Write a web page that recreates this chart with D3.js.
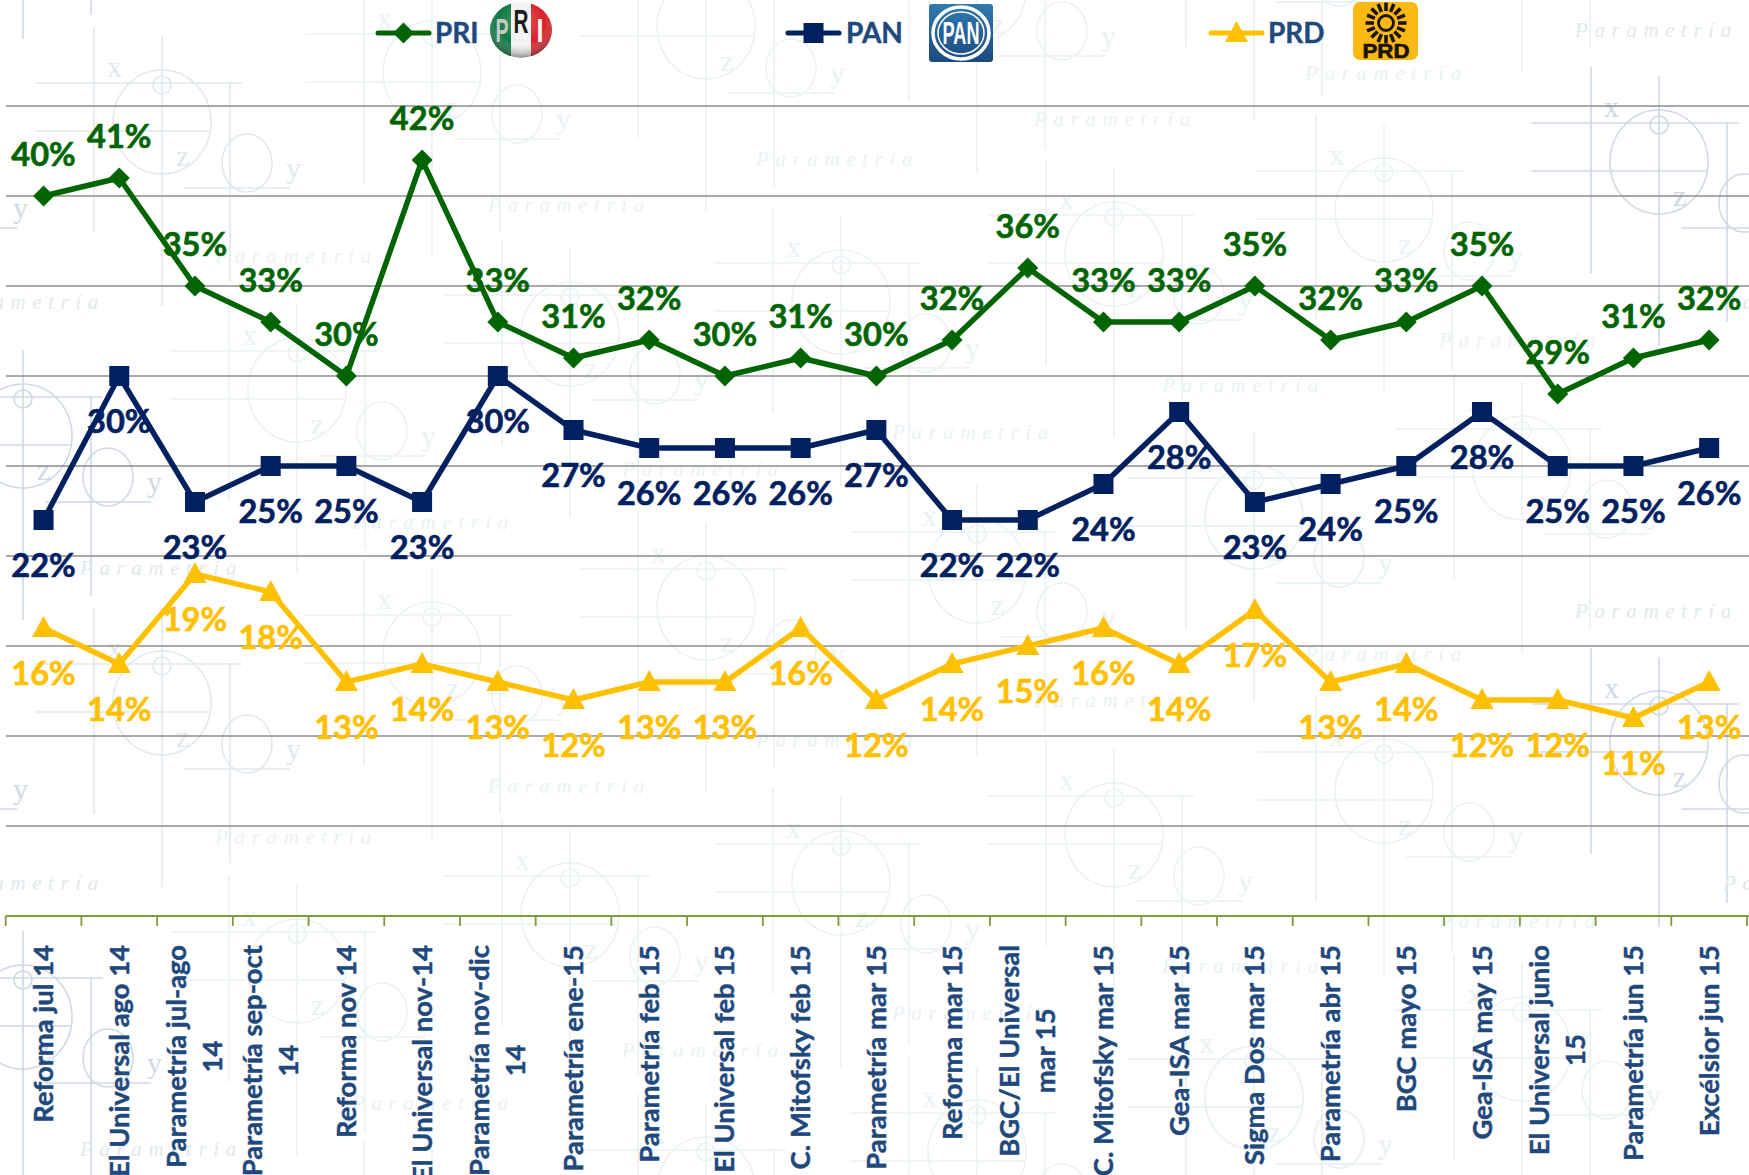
<!DOCTYPE html>
<html><head><meta charset="utf-8">
<script src="https://cdn.jsdelivr.net/npm/d3@7"></script>
<style>html,body{margin:0;padding:0;background:#fff;overflow:hidden}svg{display:block}</style>
</head><body><svg id="c" width="1749" height="1175"></svg>
<script>
const categories = ["Reforma jul 14","El Universal ago 14","Parametría jul-ago|14","Parametría sep-oct|14","Reforma nov 14","El Universal nov-14","Parametría nov-dic|14","Parametría ene-15","Parametría feb 15","El Universal feb 15","C. Mitofsky feb 15","Parametría mar 15","Reforma mar 15","BGC/El Universal|mar 15","C. Mitofsky mar 15","Gea-ISA mar 15","Sigma Dos mar 15","Parametría abr 15","BGC mayo 15","Gea-ISA may 15","El Universal junio|15","Parametría jun 15","Excélsior jun 15"];
const pri = [40,41,35,33,30,42,33,31,32,30,31,30,32,36,33,33,35,32,33,35,29,31,32];
const pan = [22,30,23,25,25,23,30,27,26,26,26,27,22,22,24,28,23,24,25,28,25,25,26];
const prd = [16,14,19,18,13,14,13,12,13,13,16,12,14,15,16,14,17,13,14,12,12,11,13];
const gridTicks = [5,10,15,20,25,30,35,40,45];
const GREEN="#006400", NAVY="#002060", GOLD="#FFC000", INK="#1F497D";

// background watermark tile
const motifs = [[162,122,1],[432,73,0],[706,27,0],[570,334,0],[297,390,0],[841,302,0],[23,436,2],[1384,210,0],[1114,254,0],[1659,162,2],[-111,162,2],[977,-10,0],[1254,-64,0],[1254,517,0],[1522,468,0]];
const stamps = [[488,205,0],[215,256,0],[756,159,0],[-58,302,1],[1723,302,1],[352,522,0],[80,568,1],[1575,30,1],[1305,73,0],[1034,119,0],[1439,340,0],[1162,385,0],[892,432,0],[622,469,0]];
const rows = [-581,0,581,1162];
const tints = ["#e9f2f4","#e0e9ee","#cfd9e6"];

const svg = d3.select("#c");
const x = d3.scaleBand().domain(categories).range([5.7,1747]);
const y = d3.scaleLinear().domain([0,45]).range([916,106]);
const cx = c => x(c)+x.bandwidth()/2;

const bg = svg.append("g").attr("fill","none").attr("stroke-width",1.6);
rows.forEach(dy=>{
  motifs.forEach(([mx,my,t])=>{
    const g = bg.append("g").attr("transform",`translate(${mx},${my+dy})`).attr("stroke",tints[t]);
    g.append("ellipse").attr("rx",49).attr("ry",52);
    g.append("circle").attr("cy",-37).attr("r",9);
    g.append("ellipse").attr("cx",85).attr("cy",41).attr("rx",25).attr("ry",29);
    [[-127,-39,80,-39],[-127,9,48,9],[22,66,128,66]].forEach(l=>g.append("line").attr("x1",l[0]).attr("y1",l[1]).attr("x2",l[2]).attr("y2",l[3]));
    [[0,-86,0,184],[-68,-95,-68,111],[68,-40,68,160]].forEach(l=>g.append("line").attr("x1",l[0]).attr("y1",l[1]).attr("x2",l[2]).attr("y2",l[3]));
    [["x",-55,-45],["z",14,44],["y",124,56]].forEach(s=>{
      const ax=mx+s[1], ay=my+dy+s[2];
      if(ax<0||ax>1730||ay<25||ay>1170) return;
      g.append("text").text(s[0]).attr("x",s[1]).attr("y",s[2]).attr("stroke","none").attr("fill",tints[t]).attr("font-family","Liberation Serif").attr("font-size",30);
    });
  });
  stamps.forEach(([sx,sy,t])=>{
    const ay=sy+dy+7;
    if(ay<20||ay>1170) return;
    bg.append("text").text("Parametría").attr("x",sx).attr("y",ay).attr("stroke","none").attr("fill",tints[t])
      .attr("font-family","Liberation Serif").attr("font-style","italic").attr("font-size",21).attr("letter-spacing",6.6);
  });
});

// grid
svg.append("g").selectAll("line").data(gridTicks).join("line")
  .attr("x1",6).attr("x2",1749).attr("y1",d=>y(d)).attr("y2",d=>y(d))
  .attr("stroke","#8c8c8c").attr("stroke-width",1.7);

// x axis
const AX="#7F9A3C";
const edges = categories.map(c=>x(c)).concat([x.range()[1]]);
const ax = svg.append("g");
ax.append("line").attr("x1",edges[0]).attr("x2",1749).attr("y1",y(0)).attr("y2",y(0)).attr("stroke",AX).attr("stroke-width",1.8);
ax.selectAll(".t").data(edges).join("line").attr("class","t").attr("x1",d=>d).attr("x2",d=>d).attr("y1",y(0)).attr("y2",y(0)+10).attr("stroke",AX).attr("stroke-width",1.8);
const TOP=945, LH=36, FS=27.4;
categories.forEach(c=>{
  const lines=c.split("|");
  const g=ax.append("g").attr("font-family","Lato").attr("font-weight",700).attr("font-size",FS).attr("fill",INK).attr("stroke",INK).attr("stroke-width",0.45);
  const n=lines.length;
  const els=lines.map((s,i)=>g.append("text").text(s).attr("text-anchor","end")
     .attr("transform",`translate(${cx(c)+(i-(n-1)/2)*LH+9.5},${TOP}) rotate(-90)`));
  if(n>1){
    const L=els[0].node().getComputedTextLength();
    els.forEach((e,i)=>{ e.attr("text-anchor","middle").attr("transform",`translate(${cx(c)+(i-(n-1)/2)*LH+9.5},${TOP+L/2}) rotate(-90)`);});
  }
});

// series
const series=[
 {name:"PRI",vals:pri,color:GREEN,sym:"d",off:-42},
 {name:"PAN",vals:pan,color:NAVY,sym:"s",off:45},
 {name:"PRD",vals:prd,color:GOLD,sym:"t",off:45}];
function marker(g,s,px,py){
  if(s==="d") g.append("path").attr("d","M0,-10.5L10.5,0L0,10.5L-10.5,0Z").attr("transform",`translate(${px},${py})`).attr("fill",g.attr("data-c"));
  if(s==="s") g.append("rect").attr("x",px-10).attr("y",py-10).attr("width",20).attr("height",20).attr("fill",g.attr("data-c"));
  if(s==="t") g.append("path").attr("d",`M0,-12L11.5,9L-11.5,9Z`).attr("transform",`translate(${px},${py})`).attr("fill",g.attr("data-c"));
}
const line=d3.line().x((d,i)=>cx(categories[i])).y(d=>y(d));
series.forEach(s=>{
  const g=svg.append("g").attr("data-c",s.color);
  g.append("path").attr("d",line(s.vals)).attr("fill","none").attr("stroke",s.color).attr("stroke-width",5.4).attr("stroke-linejoin","round");
  s.vals.forEach((v,i)=>marker(g,s.sym,cx(categories[i]),y(v)));
});
series.forEach(s=>{
  svg.append("g").selectAll("text").data(s.vals).join("text")
    .attr("x",(d,i)=>cx(categories[i])).attr("y",d=>y(d)+s.off).attr("dy","0.36em")
    .attr("text-anchor","middle").attr("font-family","Lato").attr("font-weight",700).attr("font-size",32.6).attr("fill",s.color)
    .attr("stroke",s.color).attr("stroke-width",0.6)
    .text(d=>d+"%");
});

// legend
const legend=[{name:"PRI",c:GREEN,sym:"d",x0:376,tx:435},{name:"PAN",c:NAVY,sym:"s",x0:786,tx:846},{name:"PRD",c:GOLD,sym:"t",x0:1209,tx:1268}];
legend.forEach(l=>{
  const g=svg.append("g").attr("data-c",l.c);
  g.append("line").attr("x1",l.x0+2).attr("x2",l.x0+53).attr("y1",33).attr("y2",33).attr("stroke",l.c).attr("stroke-width",5).attr("stroke-linecap","round");
  marker(g,l.sym,l.x0+27.5,33);
  g.append("text").text(l.name).attr("x",l.tx).attr("y",43).attr("font-family","Lato").attr("font-weight",700).attr("font-size",28).attr("fill",INK).attr("stroke",INK).attr("stroke-width",0.4);
});

// party logos
const defs=svg.append("defs");
const sh=defs.append("radialGradient").attr("id","sh").attr("cx","0.5").attr("cy","0.35").attr("r","0.7");
[[0,"#fff",0.25],[0.55,"#fff",0],[1,"#000",0.6]].forEach(a=>sh.append("stop").attr("offset",a[0]).attr("stop-color",a[1]).attr("stop-opacity",a[2]));
defs.append("clipPath").attr("id","ov").append("ellipse").attr("cx",521).attr("cy",30).attr("rx",31).attr("ry",28);
const pg=defs.append("linearGradient").attr("id","pb").attr("x1",0).attr("y1",0).attr("x2",0).attr("y2",1);
pg.append("stop").attr("offset",0).attr("stop-color","#2f7ab0");pg.append("stop").attr("offset",1).attr("stop-color","#1c4a80");

const l1=svg.append("g");
const ov=l1.append("g").attr("clip-path","url(#ov)");
[["#0f7a45",490,21],["#f2f2f2",511,20],["#d8232a",531,21]].forEach(b=>ov.append("rect").attr("x",b[1]).attr("y",2).attr("width",b[2]).attr("height",56).attr("fill",b[0]));
ov.append("ellipse").attr("cx",521).attr("cy",30).attr("rx",31).attr("ry",28).attr("fill","url(#sh)");
[["P",502,42,"#c9c9c9",13],["R",521,33,"#1c1c1c",15],["I",540,42,"#f4f4f4",7]].forEach(t=>l1.append("text").text(t[0]).attr("x",t[1]).attr("y",t[2]).attr("text-anchor","middle").attr("font-family","Liberation Sans").attr("font-weight",700).attr("font-size",33).attr("fill",t[3]).attr("textLength",t[4]).attr("lengthAdjust","spacingAndGlyphs"));

const l2=svg.append("g");
l2.append("rect").attr("x",929).attr("y",4).attr("width",64).attr("height",58).attr("rx",3).attr("fill","url(#pb)");
l2.append("ellipse").attr("cx",961).attr("cy",33).attr("rx",28).attr("ry",26).attr("fill","none").attr("stroke","#fff").attr("stroke-width",3.5);
l2.append("ellipse").attr("cx",961).attr("cy",33).attr("rx",23).attr("ry",21).attr("fill","none").attr("stroke","#fff").attr("stroke-width",1.5);
l2.append("text").text("PAN").attr("x",961).attr("y",44).attr("text-anchor","middle").attr("font-family","Liberation Sans").attr("font-weight",700).attr("font-size",32).attr("fill","#fff").attr("textLength",37).attr("lengthAdjust","spacingAndGlyphs");

const l3=svg.append("g");
l3.append("rect").attr("x",1353).attr("y",2).attr("width",65).attr("height",58).attr("rx",7).attr("fill","#FDB913");
d3.range(16).forEach(i=>{
  const a=i/16*2*Math.PI, sx=1386, sy=23;
  l3.append("line").attr("x1",sx+12*Math.cos(a)).attr("y1",sy+12*Math.sin(a)).attr("x2",sx+20.5*Math.cos(a)).attr("y2",sy+20.5*Math.sin(a)).attr("stroke","#1a1408").attr("stroke-width",3.6);
});
l3.append("circle").attr("cx",1386).attr("cy",23).attr("r",7.5).attr("fill","none").attr("stroke","#1a1408").attr("stroke-width",2.8);
l3.append("text").text("PRD").attr("x",1386).attr("y",58).attr("text-anchor","middle").attr("font-family","Liberation Sans").attr("font-weight",700).attr("font-size",21).attr("fill","#1a1408").attr("stroke","#1a1408").attr("stroke-width",0.7).attr("textLength",47).attr("lengthAdjust","spacingAndGlyphs");
</script></body></html>
